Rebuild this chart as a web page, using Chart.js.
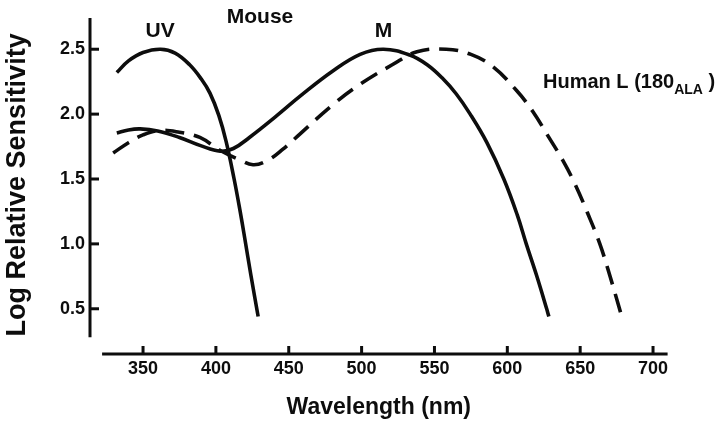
<!DOCTYPE html>
<html>
<head>
<meta charset="utf-8">
<script src="https://cdn.jsdelivr.net/npm/chart.js@4/dist/chart.umd.min.js"></script>
<style>
  html, body { margin: 0; padding: 0; background: #fff; }
  #wrap { width: 720px; height: 424px; position: relative; }
</style>
</head>
<body>
<div id="wrap"><canvas id="c" width="720" height="424"></canvas></div>
<script>
// ---- data ----
const uvWavelength = [332, 340, 350, 362, 372, 382, 390, 396, 402, 407, 412.5, 416.5, 420, 424, 429];
const uvSensitivity = [2.32, 2.41, 2.475, 2.50, 2.47, 2.38, 2.27, 2.16, 1.99, 1.79, 1.5, 1.26, 1.03, 0.76, 0.44];

const mWavelength = [332, 340, 348, 360, 375, 390, 403, 412, 423, 442, 458, 480, 499, 515, 533, 545, 556, 565, 574.5, 586, 597.6, 606.7, 613, 620, 627, 628.5];
const mSensitivity = [1.855, 1.878, 1.886, 1.87, 1.82, 1.755, 1.715, 1.735, 1.82, 1.99, 2.14, 2.33, 2.46, 2.50, 2.455, 2.38, 2.27, 2.155, 2.0, 1.78, 1.5, 1.227, 1.0, 0.76, 0.5, 0.44];

const humanLWavelength = [329.5, 340, 350, 362, 375, 389, 403, 416, 425.5, 435, 446, 458, 480, 499, 521, 538, 558, 575, 590, 606.5, 617.5, 628, 638, 646.5, 655, 663.5, 670.5, 677, 678.5];
const humanLSensitivity = [1.70, 1.78, 1.84, 1.875, 1.86, 1.82, 1.72, 1.65, 1.61, 1.64, 1.73, 1.85, 2.07, 2.23, 2.38, 2.48, 2.50, 2.46, 2.366, 2.18, 2.02, 1.83, 1.645, 1.46, 1.24, 1.0, 0.75, 0.5, 0.44];

const xTickValues = [350, 400, 450, 500, 550, 600, 650, 700];
const yTickValues = [0.5, 1.0, 1.5, 2.0, 2.5];
const yTickLabels = ['0.5', '1.0', '1.5', '2.0', '2.5'];

const xTitle = 'Wavelength (nm)';
const yTitle = 'Log Relative Sensitivity';

// curve labels (text, wavelength, sensitivity of baseline)
const labelTexts = ['UV', 'Mouse', 'M'];
const labelWavelengths = [361.7, 430.3, 515];
const labelSensitivities = [2.591, 2.705, 2.591];
const humanLabelMain = 'Human L (180';
const humanLabelSub = 'ALA';
const humanLabelEnd = ' )';
const humanLabelWavelength = 624.5;
const humanLabelSensitivity = 2.205;

// ---- build ----
const FONT = "'Liberation Sans', Arial, Helvetica, sans-serif";
const INK = '#0d0d0d';
const toPts = (xs, ys) => xs.map((x, i) => ({ x: x, y: ys[i] }));

const axesPlugin = {
  id: 'detachedAxes',
  afterDraw(chart) {
    const ctx = chart.ctx;
    const xs = chart.scales.x, ys = chart.scales.y;
    ctx.save();
    ctx.strokeStyle = INK;
    ctx.lineWidth = 3;
    ctx.lineCap = 'butt';
    const yx = xs.getPixelForValue(xs.min);
    ctx.beginPath();
    ctx.moveTo(yx, ys.getPixelForValue(2.74));
    ctx.lineTo(yx, ys.getPixelForValue(0.28));
    ctx.stroke();
    yTickValues.forEach(v => {
      const py = ys.getPixelForValue(v);
      ctx.beginPath();
      ctx.moveTo(yx - 1, py);
      ctx.lineTo(yx + 9, py);
      ctx.stroke();
    });
    const xy = ys.getPixelForValue(ys.min);
    ctx.beginPath();
    ctx.moveTo(xs.getPixelForValue(321.9), xy);
    ctx.lineTo(xs.getPixelForValue(710), xy);
    ctx.stroke();
    xTickValues.forEach(v => {
      const px = xs.getPixelForValue(v);
      ctx.beginPath();
      ctx.moveTo(px, xy + 1);
      ctx.lineTo(px, xy - 8);
      ctx.stroke();
    });
    ctx.restore();
  }
};

const labelPlugin = {
  id: 'curveLabels',
  afterDatasetsDraw(chart) {
    const ctx = chart.ctx;
    const xs = chart.scales.x, ys = chart.scales.y;
    ctx.save();
    ctx.fillStyle = INK;
    ctx.textBaseline = 'alphabetic';
    ctx.textAlign = 'center';
    ctx.font = 'bold 21px ' + FONT;
    labelTexts.forEach((t, i) => {
      ctx.fillText(t, xs.getPixelForValue(labelWavelengths[i]), ys.getPixelForValue(labelSensitivities[i]));
    });
    ctx.textAlign = 'left';
    let x = xs.getPixelForValue(humanLabelWavelength);
    const y = ys.getPixelForValue(humanLabelSensitivity);
    ctx.font = 'bold 20px ' + FONT;
    ctx.fillText(humanLabelMain, x, y);
    x += ctx.measureText(humanLabelMain).width;
    ctx.font = 'bold 14px ' + FONT;
    ctx.fillText(humanLabelSub, x, y + 6);
    x += ctx.measureText(humanLabelSub).width;
    ctx.font = 'bold 20px ' + FONT;
    ctx.fillText(humanLabelEnd, x, y);
    ctx.restore();
  }
};

const lineStyle = {
  borderColor: INK,
  borderWidth: 3.6,
  pointRadius: 0,
  fill: false,
  tension: 0.4,
  borderCapStyle: 'butt',
  borderJoinStyle: 'round'
};

new Chart(document.getElementById('c'), {
  type: 'line',
  data: {
    datasets: [
      Object.assign({ label: 'UV', data: toPts(uvWavelength, uvSensitivity) }, lineStyle),
      Object.assign({ label: 'M', data: toPts(mWavelength, mSensitivity) }, lineStyle),
      Object.assign({ label: 'Human L', data: toPts(humanLWavelength, humanLSensitivity), borderDash: [19, 10] }, lineStyle)
    ]
  },
  options: {
    responsive: false,
    animation: false,
    devicePixelRatio: 1,
    layout: { padding: { left: 0, right: 52.4, top: 10, bottom: 0 } },
    plugins: { legend: { display: false }, tooltip: { enabled: false } },
    scales: {
      x: {
        type: 'linear',
        min: 313.6,
        max: 710,
        grid: { display: false, drawTicks: false },
        border: { display: false },
        afterBuildTicks: s => { s.ticks = xTickValues.map(v => ({ value: v })); },
        afterFit: s => { s.height = 70; },
        ticks: {
          color: INK,
          padding: 4,
          maxRotation: 0,
          autoSkip: false,
          font: { family: FONT, size: 18, weight: 'bold' },
          callback: v => String(v)
        },
        title: {
          display: true,
          text: xTitle,
          color: INK,
          font: { family: FONT, size: 23, weight: 'bold' },
          padding: { top: 0, bottom: 3 }
        }
      },
      y: {
        type: 'linear',
        min: 0.1515,
        max: 2.7576,
        grid: { display: false, drawTicks: false },
        border: { display: false },
        afterBuildTicks: s => { s.ticks = yTickValues.map(v => ({ value: v })); },
        afterFit: s => { s.width = 90; },
        ticks: {
          color: INK,
          padding: 5,
          autoSkip: false,
          font: { family: FONT, size: 18, weight: 'bold' },
          callback: v => yTickLabels[yTickValues.indexOf(v)] ?? ''
        },
        title: {
          display: true,
          text: yTitle,
          color: INK,
          font: { family: FONT, size: 27, weight: 'bold' },
          padding: { top: 1, bottom: 0 }
        }
      }
    }
  },
  plugins: [axesPlugin, labelPlugin]
});
</script>
</body>
</html>
